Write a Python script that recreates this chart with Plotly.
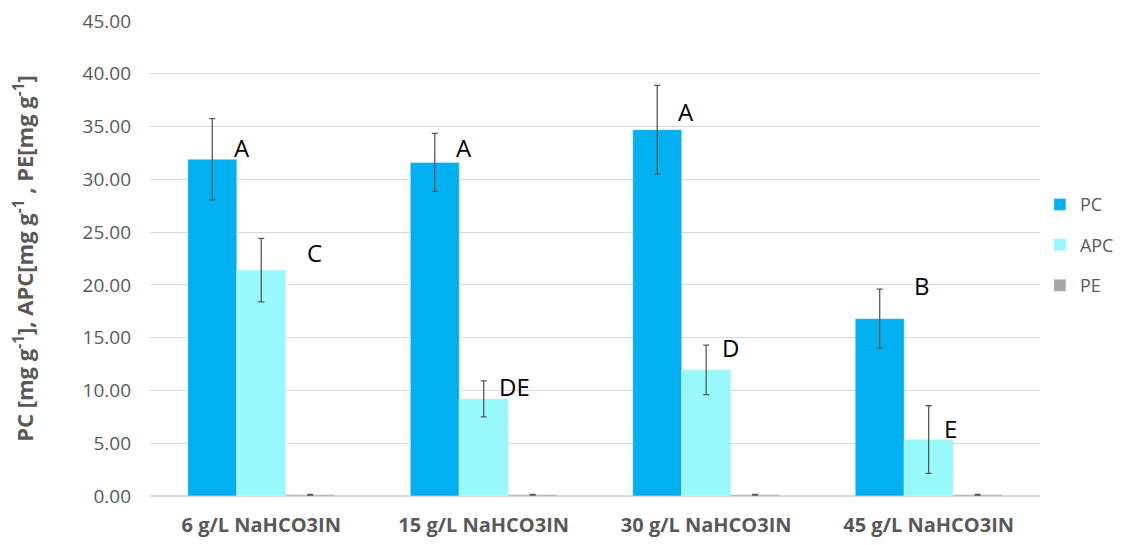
import plotly.graph_objects as go

categories = ["6 g/L NaHCO3IN", "15 g/L NaHCO3IN", "30 g/L NaHCO3IN", "45 g/L NaHCO3IN"]
pc = [31.9, 31.6, 34.7, 16.8]
pc_err = [3.85, 2.75, 4.2, 2.8]
apc = [21.4, 9.2, 11.95, 5.35]
apc_err = [3.0, 1.7, 2.35, 3.2]
pe = [0.12, 0.12, 0.12, 0.12]
pe_err = [0.04, 0.04, 0.04, 0.04]

# significance letters: (category index, x offset within group, y value, text)
letters = ["A", "C", "A", "DE", "A", "D", "B", "E"]
letter_cat = [0, 0, 1, 1, 2, 2, 3, 3]
letter_dx = [-0.085, 0.238, -0.09, 0.14, -0.09, 0.108, -0.03, 0.10]
letter_y = [33.0, 23.1, 33.0, 10.35, 36.4, 14.05, 19.9, 6.35]

x = list(range(len(categories)))
err_style = dict(type="data", thickness=1.3, width=3, color="#595959")

fig = go.Figure()
fig.add_trace(go.Bar(name="PC", x=x, y=pc, marker_color="#00B0F0", legendgroup="pc",
                     error_y=dict(array=pc_err, **err_style)))
fig.add_trace(go.Bar(name="APC", x=x, y=apc, marker_color="#97F9F9", legendgroup="apc",
                     error_y=dict(array=apc_err, **err_style)))
fig.add_trace(go.Bar(name="PE", x=x, y=pe, marker_color="#A5A5A5", legendgroup="pe",
                     error_y=dict(array=pe_err, **err_style)))

for t, c, dx, yv in zip(letters, letter_cat, letter_dx, letter_y):
    fig.add_annotation(x=c + dx, y=yv, text=t, showarrow=False,
                       xanchor="center", yanchor="middle",
                       font=dict(family="Open Sans, sans-serif", size=24, color="#000000"))

fig.update_layout(
    width=1123, height=545,
    margin=dict(l=150, r=83, t=21, b=49),
    plot_bgcolor="white", paper_bgcolor="white",
    barmode="group", bargap=0.34, bargroupgap=0,
    font=dict(family="Open Sans, sans-serif", color="#595959"),
    legend=dict(xref="container", yref="container",
                x=0.926, y=0.55, xanchor="left", yanchor="middle",
                font=dict(size=18, color="#595959"), itemwidth=30,
                tracegroupgap=14, bgcolor="rgba(0,0,0,0)"),
    xaxis=dict(tickmode="array", tickvals=x, ticktext=categories,
               range=[-0.5, 3.5], showgrid=False, showline=True,
               linecolor="#D9D9D9", linewidth=1, ticks="", automargin=False,
               ticklabelstandoff=11,
               tickfont=dict(family="Open Sans, sans-serif",
                             size=20, color="#595959", weight="bold")),
    yaxis=dict(range=[0, 45], dtick=5, tickformat=".2f",
               showgrid=True, gridcolor="#D9D9D9", gridwidth=1,
               zeroline=True, zerolinecolor="#D9D9D9", automargin=False,
               ticks="", ticklen=0, ticklabelstandoff=18,
               tickfont=dict(size=19, color="#595959"),
               title=dict(text="PC [mg g<sup>-1</sup>], APC[mg g<sup>-1</sup> , PE[mg g<sup>-1</sup>]",
                          font=dict(size=22, color="#595959", weight="bold"),
                          standoff=42)),
)

fig.write_html("out.html")
